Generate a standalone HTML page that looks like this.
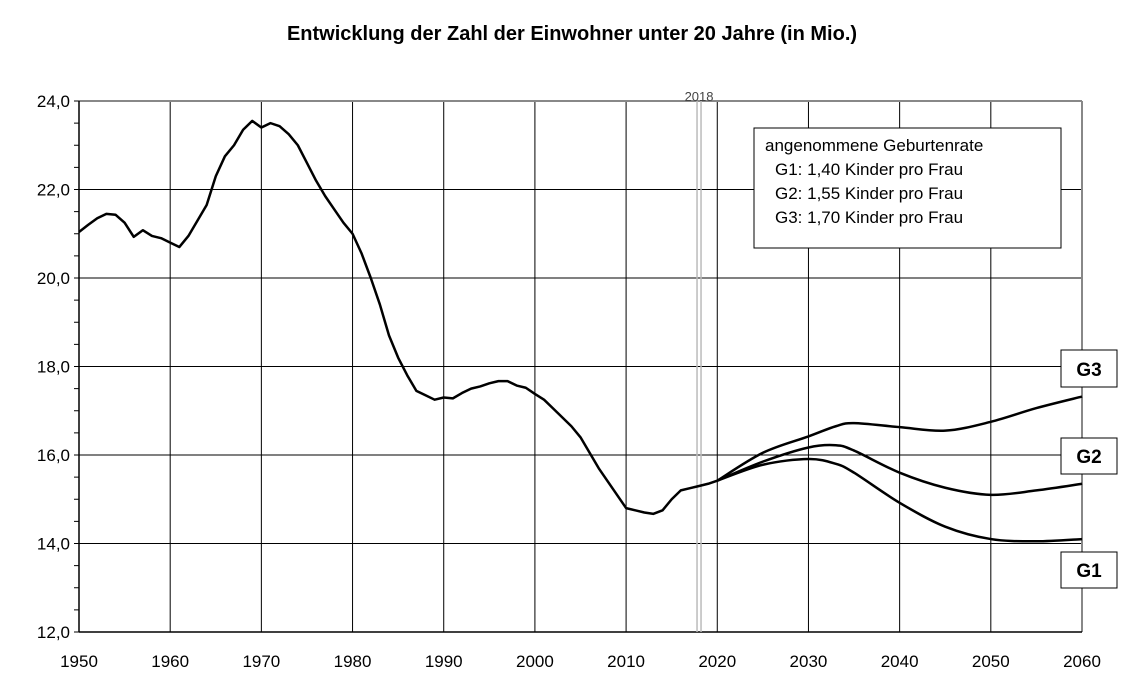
<!DOCTYPE html>
<html><head><meta charset="utf-8"><style>
body{margin:0;background:#fff;}
svg{display:block;font-family:"Liberation Sans",Arial,sans-serif;}
</style></head><body>
<svg id="c" width="1124" height="696" xmlns="http://www.w3.org/2000/svg">
<text x="572" y="40" text-anchor="middle" font-size="20" font-weight="bold">Entwicklung der Zahl der Einwohner unter 20 Jahre  (in Mio.)</text>
<g id="grid"></g>
<g id="axes"></g>
<g id="series"></g>
<g>
<rect x="754" y="128" width="307" height="120" fill="#fff" stroke="#000" stroke-width="1"/>
<text x="765" y="151" font-size="17">angenommene Geburtenrate</text>
<text x="775" y="175" font-size="17">G1:  1,40 Kinder pro Frau</text>
<text x="775" y="199" font-size="17">G2:  1,55 Kinder pro Frau</text>
<text x="775" y="223" font-size="17">G3:  1,70 Kinder pro Frau</text>
</g>
<g>
<rect x="1061" y="350" width="56" height="37" fill="#fff" stroke="#000"/>
<text x="1089" y="376" text-anchor="middle" font-size="19" font-weight="bold">G3</text>
<rect x="1061" y="438" width="56" height="36" fill="#fff" stroke="#000"/>
<text x="1089" y="463" text-anchor="middle" font-size="19" font-weight="bold">G2</text>
<rect x="1061" y="552" width="56" height="36" fill="#fff" stroke="#000"/>
<text x="1089" y="577" text-anchor="middle" font-size="19" font-weight="bold">G1</text>
</g>
</svg>
<script>
const years=[];for(let y=1950;y<=2020;y++)years.push(y);
const hist=[21.04,21.2,21.35,21.45,21.43,21.25,20.93,21.08,20.95,20.9,20.8,20.7,20.95,21.3,21.65,22.3,22.75,23.0,23.35,23.55,23.4,23.5,23.43,23.25,23.0,22.6,22.2,21.85,21.55,21.25,21.0,20.55,20.0,19.4,18.7,18.2,17.8,17.45,17.35,17.25,17.3,17.28,17.4,17.5,17.55,17.62,17.67,17.67,17.57,17.52,17.38,17.25,17.05,16.85,16.65,16.4,16.05,15.7,15.4,15.1,14.8,14.75,14.7,14.67,14.75,15.0,15.2,15.25,15.3,15.35,15.42];
const projYears=[2020,2025,2030,2033,2035,2040,2045,2050,2055,2060];
const g1=[15.42,15.78,15.91,15.8,15.6,14.92,14.38,14.1,14.05,14.1];
const g2=[15.42,15.85,16.17,16.22,16.1,15.6,15.26,15.1,15.2,15.35];
const g3=[15.42,16.05,16.42,16.65,16.72,16.63,16.55,16.75,17.06,17.32];
const xTicks=[1950,1960,1970,1980,1990,2000,2010,2020,2030,2040,2050,2060];
const yTicks=[12,14,16,18,20,22,24];
const yTickLabels=["12,0","14,0","16,0","18,0","20,0","22,0","24,0"];
const markerYear=2018;
const X=y=>79+(y-1950)*(1003/110);
const Y=v=>632-(v-12)*(531/12);
const NS="http://www.w3.org/2000/svg";
function mk(p,t,a){const e=document.createElementNS(NS,t);for(const k in a)e.setAttribute(k,a[k]);p.appendChild(e);return e;}
const grid=document.getElementById('grid'),axes=document.getElementById('axes'),ser=document.getElementById('series');
xTicks.forEach(t=>{if(t>1950&&t<2060){const l=mk(grid,'line',{x1:X(t),x2:X(t),y1:Y(24),y2:Y(12),stroke:'#000','stroke-width':1});

}
const tx=mk(axes,'text',{x:X(t),y:667,'text-anchor':'middle','font-size':17});tx.textContent=t;

});
yTicks.forEach((t,i)=>{if(t>12&&t<24){const l=mk(grid,'line',{x1:X(1950),x2:X(2060),y1:Y(t),y2:Y(t),stroke:'#000','stroke-width':1});

}
const tx=mk(axes,'text',{x:70,y:Y(t)+6,'text-anchor':'end','font-size':17});tx.textContent=yTickLabels[i];

});
for(let v=12;v<=24;v+=0.5){mk(axes,'line',{x1:74,x2:79,y1:Y(v),y2:Y(v),stroke:'#000'});}
mk(axes,'line',{x1:X(1950),x2:X(2060),y1:Y(24),y2:Y(24),stroke:'#888','stroke-width':2});
mk(axes,'line',{x1:X(2060),x2:X(2060),y1:Y(24),y2:Y(12),stroke:'#888','stroke-width':2});
mk(axes,'line',{x1:X(1950),x2:X(1950),y1:Y(24),y2:Y(12),stroke:'#000','stroke-width':1.5});
mk(axes,'line',{x1:X(1950),x2:X(2060),y1:Y(12),y2:Y(12),stroke:'#000','stroke-width':1.5});
const mx=X(markerYear);
const m1=mk(axes,'line',{x1:mx-2,x2:mx-2,y1:Y(24),y2:Y(12),stroke:'#bbb','stroke-width':1.5});


mk(axes,'line',{x1:mx+2,x2:mx+2,y1:Y(24),y2:Y(12),stroke:'#bbb','stroke-width':1.5});
const ml=mk(axes,'text',{x:mx,y:101,'text-anchor':'middle','font-size':13,fill:'#444'});ml.textContent=markerYear;


function smooth(pts){let d=`M${pts[0][0]},${pts[0][1]}`;for(let i=0;i<pts.length-1;i++){const p0=pts[Math.max(0,i-1)],p1=pts[i],p2=pts[i+1],p3=pts[Math.min(pts.length-1,i+2)];
d+=` C${p1[0]+(p2[0]-p0[0])/6},${p1[1]+(p2[1]-p0[1])/6} ${p2[0]-(p3[0]-p1[0])/6},${p2[1]-(p3[1]-p1[1])/6} ${p2[0]},${p2[1]}`;}return d;}
const h=mk(ser,'polyline',{points:years.map((y,i)=>X(y)+','+Y(hist[i])).join(' '),fill:'none',stroke:'#000','stroke-width':2.5,'stroke-linejoin':'round'});


[[g1,'line-g1'],[g2,'line-g2'],[g3,'line-g3']].forEach(([s,n])=>{const p=mk(ser,'path',{d:smooth(projYears.map((y,i)=>[X(y),Y(s[i])])),fill:'none',stroke:'#000','stroke-width':2.5});

});
</script>
</body></html>
